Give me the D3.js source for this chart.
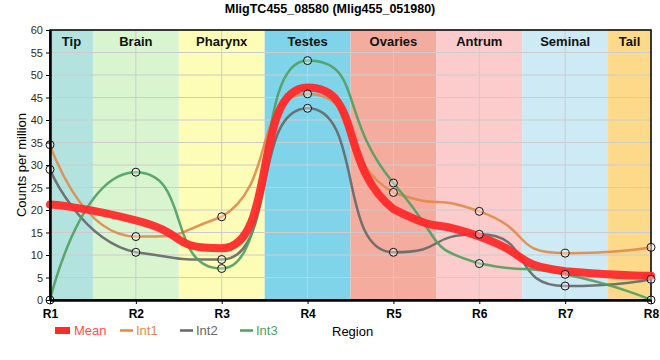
<!DOCTYPE html>
<html><head><meta charset="utf-8">
<script src="https://cdn.jsdelivr.net/npm/d3@7"></script>
<style>body{margin:0;background:#fff;font-family:Arial,"Liberation Sans",sans-serif;}</style>
</head><body><svg id="c" width="660" height="360"></svg>
<script>
const regions = ["R1","R2","R3","R4","R5","R6","R7","R8"];
const bandNames = ["Tip","Brain","Pharynx","Testes","Ovaries","Antrum","Seminal","Tail"];
const bandColors = ["#b3e3df","#d8f5d0","#fdfdb8","#80d4ea","#f4ac9f","#fccbcb","#ceeaf5","#fdd98a"];
const int1 = [34.5,14.1,18.5,45.8,23.9,19.7,10.4,11.7];
const int2 = [29.0,10.6,9.0,42.6,10.6,14.6,3.1,4.6];
const int3 = [0,28.4,7.0,53.2,26.0,8.1,5.7,0];
const meanVals = [21.2,17.7,11.5,47.2,20.2,14.1,6.4,5.4];
const yTicks = [0,5,10,15,20,25,30,35,40,45,50,55,60];
const seriesNames = ["Mean","Int1","Int2","Int3"];
const seriesColors = ["#ff2a2a","#e0894a","#666666","#4f9f5f"];

const svg = d3.select("#c");
const L=50,R=651,T=30,B=300;
const x = d3.scalePoint().domain(regions).range([L,R]);
const y = d3.scaleLinear().domain([0,60]).range([B,T]);
const step = x.step();

// smoothed spline: tangent slopes clamped at extrema, long horizontal handles
function splinePath(vals){
  const K = 0.65;
  const pts = vals.map((v,i)=>({px:x(regions[i]), py:y(v)}));
  const sm=1.5, den=sm+1;
  pts.forEach((p,i)=>{
    const lp=pts[i-1], np=pts[i+1];
    if(!lp||!np) return;
    let lcx=(sm*p.px+lp.px)/den, lcy=(sm*p.py+lp.py)/den;
    let rcx=(sm*p.px+np.px)/den, rcy=(sm*p.py+np.py)/den;
    let corr=((rcy-lcy)*(rcx-p.px))/(rcx-lcx)+p.py-rcy;
    lcy+=corr; rcy+=corr;
    if(lcy>lp.py && lcy>p.py){ lcy=Math.max(lp.py,p.py); rcy=2*p.py-lcy; }
    else if(lcy<lp.py && lcy<p.py){ lcy=Math.min(lp.py,p.py); rcy=2*p.py-lcy; }
    if(rcy>np.py && rcy>p.py){ rcy=Math.max(np.py,p.py); lcy=2*p.py-rcy; }
    else if(rcy<np.py && rcy<p.py){ rcy=Math.min(np.py,p.py); lcy=2*p.py-rcy; }
    const s=(rcy-lcy)/(rcx-lcx);
    const hl=(p.px-lp.px)*K, hr=(np.px-p.px)*K;
    let ly=p.py-s*hl, ry=p.py+s*hr;
    const clamp=(v,a,b)=>Math.max(Math.min(a,b),Math.min(Math.max(a,b),v));
    p.lc=[p.px-hl, clamp(ly,p.py,lp.py)];
    p.rc=[p.px+hr, clamp(ry,p.py,np.py)];
  });
  let d=`M${pts[0].px},${pts[0].py}`;
  for(let i=1;i<pts.length;i++){
    const lp=pts[i-1], p=pts[i];
    const c1=lp.rc||[lp.px,lp.py], c2=p.lc||[p.px,p.py];
    d+=`C${c1[0]},${c1[1]},${c2[0]},${c2[1]},${p.px},${p.py}`;
  }
  return d;
}

// bands
svg.selectAll("rect.band").data(regions).join("rect")
  .attr("x",(d,i)=>Math.max(L,x(d)-step/2))
  .attr("width",(d,i)=>Math.min(R,x(d)+step/2)-Math.max(L,x(d)-step/2))
  .attr("y",T).attr("height",B-T)
  .attr("fill",(d,i)=>bandColors[i]);

// grid
svg.selectAll("line.gy").data(yTicks).join("line")
  .attr("x1",L).attr("x2",R).attr("y1",d=>y(d)).attr("y2",d=>y(d))
  .attr("stroke","#cccccc").attr("stroke-width",1);
svg.selectAll("line.gx").data(regions).join("line")
  .attr("x1",d=>x(d)).attr("x2",d=>x(d)).attr("y1",T).attr("y2",B)
  .attr("stroke","#cccccc").attr("stroke-width",1);

// band labels
svg.selectAll("text.bl").data(regions).join("text")
  .attr("x",(d,i)=>{const a=Math.max(L,x(d)-step/2),b=Math.min(R,x(d)+step/2);return (a+b)/2;})
  .attr("y",46).attr("text-anchor","middle")
  .attr("font-size",13).attr("font-weight","bold").attr("fill","#111")
  .text((d,i)=>bandNames[i]);

// frame
svg.append("rect").attr("x",L).attr("y",T).attr("width",R-L).attr("height",B-T)
  .attr("fill","none").attr("stroke","#000").attr("stroke-width",1.5);

// lines
const ints = [int1,int2,int3];
ints.forEach((s,k)=>{
  svg.append("path").attr("d",splinePath(s)).attr("fill","none")
    .attr("stroke",seriesColors[k+1]).attr("stroke-width",2.5).attr("stroke-opacity",0.9);
});
svg.append("path").attr("d",splinePath(meanVals)).attr("fill","none")
  .attr("stroke",seriesColors[0]).attr("stroke-width",8).attr("stroke-opacity",0.95)
  .attr("stroke-linecap","round");
ints.forEach((s,k)=>{
  svg.selectAll(null).data(s).join("circle")
    .attr("cx",(d,i)=>x(regions[i])).attr("cy",d=>y(d)).attr("r",4)
    .attr("fill","rgba(255,255,255,0.35)").attr("stroke","#111").attr("stroke-width",1);
});

// axes
const ya = svg.append("g").attr("transform",`translate(${L},0)`)
  .call(d3.axisLeft(y).tickValues(yTicks).tickSize(4).tickSizeOuter(0));
ya.select(".domain").attr("stroke","#000").attr("stroke-width",2.5);
ya.selectAll("text").attr("font-size",11).attr("fill","#3a2a10")
  .attr("font-family","Arial,'Liberation Sans',sans-serif");
const xa = svg.append("g").attr("transform",`translate(0,${B})`)
  .call(d3.axisBottom(x).tickSize(4).tickSizeOuter(0));
xa.select(".domain").attr("stroke","#000").attr("stroke-width",2.5);
xa.selectAll("text").attr("font-size",12).attr("font-weight","bold").attr("fill","#000")
  .attr("font-family","Arial,'Liberation Sans',sans-serif").attr("dy","0.9em");

// title
svg.append("text").attr("x",330).attr("y",13).attr("text-anchor","middle")
  .attr("font-size",12.5).attr("font-weight","bold").attr("fill","#000")
  .text("MligTC455_08580 (Mlig455_051980)");
// y label
svg.append("text").attr("transform","translate(26,165) rotate(-90)").attr("text-anchor","middle")
  .attr("font-size",13).attr("fill","#000").text("Counts per million");
// x label
svg.append("text").attr("x",332).attr("y",336).attr("font-size",13).attr("fill","#000").text("Region");

// legend
const lx=[55,120,180,240];
seriesNames.forEach((n,i)=>{
  if(i===0){
    svg.append("rect").attr("x",lx[i]).attr("y",327).attr("width",15).attr("height",7).attr("fill",seriesColors[0]);
  } else {
    svg.append("line").attr("x1",lx[i]).attr("x2",lx[i]+13).attr("y1",330.5).attr("y2",330.5)
      .attr("stroke",seriesColors[i]).attr("stroke-width",2.5);
  }
  svg.append("text").attr("x",lx[i]+(i===0?19:16)).attr("y",335).attr("font-size",13)
    .attr("fill",i===0?"#ff4d4d":seriesColors[i]).text(n);
});
</script></body></html>
